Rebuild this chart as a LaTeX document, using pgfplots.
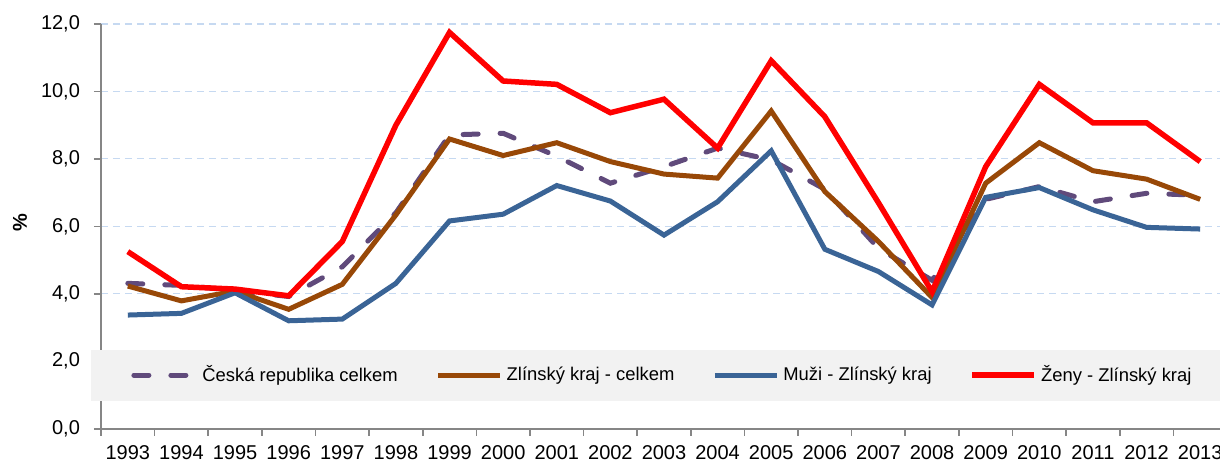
\documentclass[border=0pt]{standalone}
\usepackage{pgfplots}
\pgfplotsset{compat=1.18}
\usepackage{fontspec}
\setmainfont{Liberation Sans}
\definecolor{czred}{HTML}{FF0000}
\definecolor{czbrown}{HTML}{984807}
\definecolor{czblue}{HTML}{3A6496}
\definecolor{czpurple}{HTML}{604A7B}
\definecolor{gridblue}{HTML}{C6D9F1}
\definecolor{axisgray}{HTML}{868686}
\definecolor{legendgray}{HTML}{F2F2F2}
\begin{document}
\begin{tikzpicture}
\begin{axis}[
  at={(0,0)}, anchor=south west,
  width=563pt, height=202.35pt, scale only axis,
  xmin=-0.5, xmax=20.5, ymin=0, ymax=12,
  axis lines*=left,
  axis line style={axisgray, line width=0.8pt},
  tick align=outside,
  major tick length=3.5pt,
  tick style={axisgray, line width=0.8pt},
  ytick={0,2,...,12},
  /pgf/number format/assume math mode=true,
  yticklabel style={font=\fontsize{10}{12}\selectfont, xshift=-3.5pt, /pgf/number format/.cd, fixed, fixed zerofill, precision=1, use comma},
  xtick={-0.5,0.5,...,20.5},
  xticklabels={},
  extra x ticks={0,...,20},
  extra x tick labels={1993,1994,1995,1996,1997,1998,1999,2000,2001,2002,2003,2004,2005,2006,2007,2008,2009,2010,2011,2012,2013},
  extra x tick style={major tick length=0pt, grid=none, tick label style={font=\fontsize{10}{12}\selectfont, yshift=-5pt}},
  ymajorgrids,
  major grid style={gridblue, dash pattern=on 3.5pt off 2.5pt, line width=0.6pt},
  ylabel={\%},
  every axis y label/.style={at={(axis description cs:0,0.51)}, xshift=-40.5pt, rotate=90, anchor=center, font=\fontsize{10}{12}\selectfont\bfseries},
  legend columns=4,
  legend cell align=left,
  legend style={at={(axis description cs:-0.00888,0.0684)}, anchor=south west,
    fill=legendgray, draw=none, inner xsep=20pt, inner ysep=6pt,
    font=\fontsize{9.2}{11}\selectfont,
    /tikz/every even column/.append style={column sep=17pt}},
  legend image code/.code={\draw[#1] (0pt,0pt) -- (31pt,0pt);},
]
\addplot[czpurple, line width=2.5pt, line cap=round, dash pattern=on 7.5pt off 11pt] coordinates {
(0,4.31) (1,4.25) (2,4.10) (3,3.92) (4,4.80) (5,6.40) (6,8.71) (7,8.76) (8,8.08) (9,7.28) (10,7.77)
(11,8.32) (12,7.97) (13,7.10) (14,5.35) (15,4.40) (16,6.80) (17,7.18) (18,6.73) (19,6.98) (20,6.92)};
\addlegendentry{Česká republika celkem}
\addplot[czbrown, line width=2.5pt] coordinates {
(0,4.23) (1,3.79) (2,4.08) (3,3.54) (4,4.28) (5,6.34) (6,8.59) (7,8.10) (8,8.48) (9,7.92) (10,7.55)
(11,7.43) (12,9.42) (13,7.03) (14,5.55) (15,3.89) (16,7.28) (17,8.48) (18,7.65) (19,7.40) (20,6.80)};
\addlegendentry{Zlínský kraj - celkem}
\addplot[czblue, line width=2.5pt] coordinates {
(0,3.37) (1,3.42) (2,4.03) (3,3.20) (4,3.25) (5,4.31) (6,6.16) (7,6.36) (8,7.21) (9,6.75) (10,5.74)
(11,6.73) (12,8.24) (13,5.32) (14,4.66) (15,3.67) (16,6.86) (17,7.15) (18,6.49) (19,5.97) (20,5.92)};
\addlegendentry{Muži - Zlínský kraj}
\addplot[czred, line width=2.75pt] coordinates {
(0,5.25) (1,4.21) (2,4.14) (3,3.94) (4,5.55) (5,9.00) (6,11.75) (7,10.31) (8,10.21) (9,9.37) (10,9.77)
(11,8.32) (12,10.91) (13,9.25) (14,6.70) (15,4.06) (16,7.77) (17,10.21) (18,9.07) (19,9.07) (20,7.92)};
\addlegendentry{Ženy - Zlínský kraj}
\end{axis}
\pgfresetboundingbox
\path[use as bounding box] (-50.5pt,-16.15pt) rectangle (559.5pt,214.35pt);
\end{tikzpicture}
\end{document}
